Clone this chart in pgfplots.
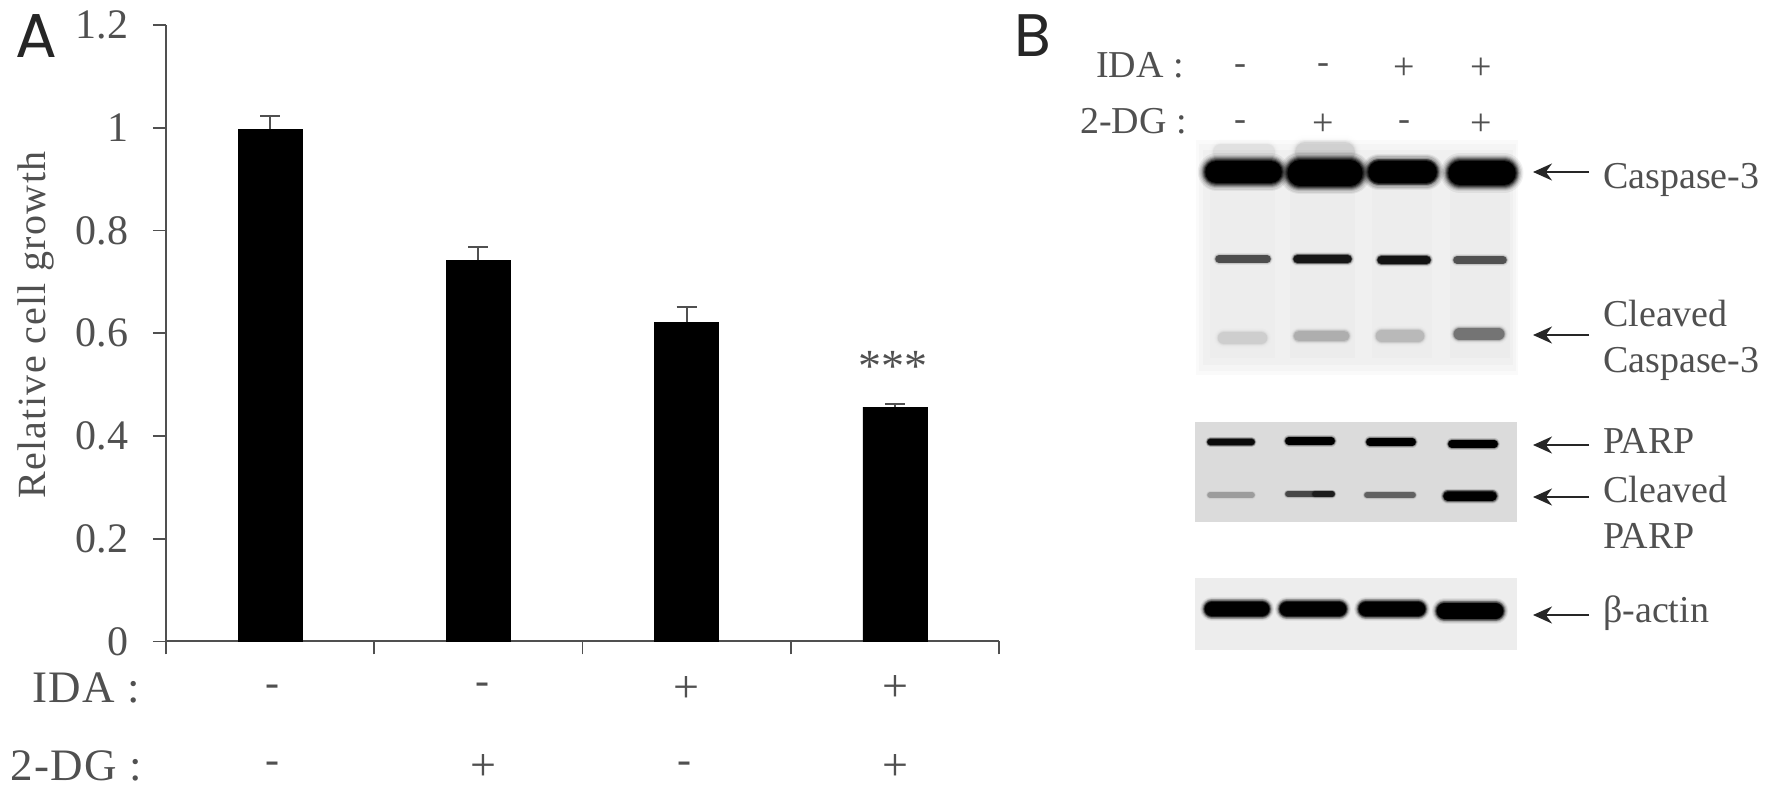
\documentclass[border=0pt]{standalone}
\usepackage{pgfplots}
\usepackage{pgfplotstable}
\usepackage{fontspec}
\pgfplotsset{compat=1.18}
\usetikzlibrary{arrows.meta}
\setmainfont{Liberation Serif}
\newfontfamily\panelfont{Poppins}
\definecolor{txt}{HTML}{505050}
\definecolor{axc}{HTML}{505050}
\pgfplotstableread{
x y err
0 0.997 0.025
1 0.742 0.026
2 0.621 0.030
3 0.456 0.006
}\growth
\newcommand{\fs}[1]{\fontsize{#1}{#1}\selectfont}
% soft band: x1 x2 y height opacity
\newcommand{\bandlayer}[7]{%
 \addplot[no markers,black,line cap=round,line width=#4*#6*1pt,opacity=#5*#7] coordinates {(#1+#4*0.5,#3)(#2-#4*0.5,#3)};
}
\newcommand{\band}[5]{%
 \bandlayer{#1}{#2}{#3}{#4}{#5}{1.5}{0.06}
 \bandlayer{#1}{#2}{#3}{#4}{#5}{1.4}{0.08}
 \bandlayer{#1}{#2}{#3}{#4}{#5}{1.3}{0.12}
 \bandlayer{#1}{#2}{#3}{#4}{#5}{1.2}{0.18}
 \bandlayer{#1}{#2}{#3}{#4}{#5}{1.12}{0.25}
 \bandlayer{#1}{#2}{#3}{#4}{#5}{1.05}{0.35}
 \bandlayer{#1}{#2}{#3}{#4}{#5}{0.98}{0.5}
 \bandlayer{#1}{#2}{#3}{#4}{#5}{0.9}{1}
}
\newcommand{\blot}[5]{%
 \addplot[draw=none,fill=#5,forget plot] coordinates {(#1,#3)(#2,#3)(#2,#4)(#1,#4)} -- cycle;
}
\newcommand{\lbl}[4]{\node[anchor=base west,inner sep=0pt,text=txt] at (axis cs:#1,#2) {\fs{#3}#4};}
\newcommand{\lbls}[4]{\node[anchor=base west,inner sep=0pt,text=txt] at (axis cs:#1,#2) {\fs{#3}\addfontfeatures{LetterSpace=3}#4};}
\newcommand{\sgn}[4]{\node[anchor=center,inner sep=0pt,text=txt] at (axis cs:#1,#2) {\fs{#3}#4};}
\newcommand{\arr}[1]{\draw[-{Stealth[length=19pt,width=17pt]},line width=2pt,black!85] (axis cs:1589,#1) -- (axis cs:1533,#1);}
\begin{document}
\begin{tikzpicture}[x=1pt,y=1pt]
% pixel-frame layer: panel B and annotations
\begin{axis}[at={(0pt,0pt)},anchor=south west,scale only axis,width=1772pt,height=789pt,
  xmin=0,xmax=1772,ymin=0,ymax=789,y dir=reverse,hide axis,clip=false]
\path (axis cs:0,0) rectangle (axis cs:1772,789);
% caspase blot
\blot{1196}{1518}{140}{375}{black!2}
\blot{1199}{1516}{144}{371}{black!4}
\blot{1203}{1513}{150}{365}{black!6}
\blot{1210}{1275}{185}{358}{black!7}
\blot{1290}{1355}{185}{358}{black!7.5}
\blot{1372}{1432}{185}{358}{black!7}
\blot{1450}{1510}{185}{358}{black!7.5}
\band{1212}{1276}{152}{18}{0.03}
\band{1294}{1356}{152}{22}{0.06}
\band{1204}{1283}{172}{25}{1}
\band{1286}{1364}{173}{28}{1}
\band{1367}{1438}{172}{24}{1}
\band{1447}{1517}{173}{26}{1}
\band{1215}{1271}{259}{8}{0.38}
\band{1293}{1352}{259}{9}{0.68}
\band{1377}{1431}{260}{9}{0.72}
\band{1453}{1507}{260}{8}{0.36}
\band{1217}{1268}{338}{14}{0.05}
\band{1293}{1350}{336}{12}{0.11}
\band{1375}{1425}{336}{14}{0.09}
\band{1453}{1505}{334}{13}{0.25}
% PARP blot
\blot{1195}{1517}{422}{522}{black!14}
\band{1207}{1255}{442}{7}{0.8}
\band{1285}{1335}{441}{8}{1}
\band{1366}{1416}{442}{8}{1}
\band{1448}{1498}{444}{8}{1}
\band{1207}{1255}{495}{6}{0.12}
\band{1285}{1335}{494}{6}{0.38}
\band{1312}{1335}{494}{6}{0.3}
\band{1364}{1416}{495}{6}{0.28}
\band{1443}{1497}{496}{10}{1}
% actin blot
\blot{1195}{1517}{578}{650}{black!7}
\band{1204}{1270}{609}{16}{1}
\band{1279}{1347}{609}{16}{1}
\band{1358}{1426}{609}{16}{1}
\band{1436}{1504}{611}{17}{1}
% arrows
\arr{172}\arr{335}\arr{445}\arr{497}\arr{615}
% panel letters
\node[anchor=base west,inner sep=0pt,text=black!85] at (axis cs:15,58) {\panelfont\fs{62}A};
\node[anchor=base west,inner sep=0pt,text=black!85] at (axis cs:1014,57) {\panelfont\fs{60}B};
% panel A rows
\lbls{32}{702}{45}{IDA :}
\lbls{10}{780}{45}{2-DG :}
\sgn{272}{691}{42}{-}\sgn{482}{689}{42}{-}\sgn{686}{689}{46}{+}\sgn{895}{688}{46}{+}
\sgn{272}{768}{42}{-}\sgn{483}{767}{46}{+}\sgn{684}{768}{42}{-}\sgn{895}{767}{46}{+}
\node[anchor=center,inner sep=0pt,text=txt] at (axis cs:893,366) {\fs{46}***};
% panel B rows
\lbl{1096}{78}{38}{IDA :}
\lbl{1080}{134}{38}{2-DG :}
\sgn{1240}{70}{36}{-}\sgn{1323}{69}{36}{-}\sgn{1404}{69}{38}{+}\sgn{1481}{69}{38}{+}
\sgn{1240}{126}{36}{-}\sgn{1323}{125}{38}{+}\sgn{1404}{126}{36}{-}\sgn{1481}{125}{38}{+}
% right labels
\lbl{1603}{188}{38}{Caspase-3}
\lbl{1603}{326}{38}{Cleaved}
\lbl{1603}{372}{38}{Caspase-3}
\lbl{1603}{453}{38}{PARP}
\lbl{1603}{502}{38}{Cleaved}
\lbl{1603}{548}{38}{PARP}
\lbl{1603}{622}{38}{β-actin}
\end{axis}
% bar chart
\begin{axis}[at={(166pt,147.5pt)},anchor=south west,scale only axis,width=833pt,height=616.5pt,
  xmin=-0.5,xmax=3.5,ymin=0,ymax=1.2,
  axis lines*=left,axis line style={-,axc,line width=2pt},
  ybar,bar width=64pt,
  xtick={-0.5,0.5,1.5,2.5,3.5},xticklabels={},
  ytick={0,0.2,0.4,0.6,0.8,1,1.2},
  yticklabels={0,0.2,0.4,0.6,0.8,1,1.2},
  tick align=outside,major tick length=13pt,
  tick style={axc,line width=1.8pt},
  yticklabel style={text=txt,font=\fs{42},xshift=-21pt},
  ylabel={\fs{40}\addfontfeatures{LetterSpace=3.4}Relative cell growth},
  every axis y label/.style={at={(axis description cs:-0.156,0.513)},rotate=90,anchor=center,text=txt},
  clip=false]
\addplot[fill=black,draw=black,
  error bars/.cd,y dir=plus,y explicit,
  error bar style={axc,line width=2pt},
  error mark options={rotate=90,mark size=10pt,line width=2pt,axc}]
  table[x=x,y=y,y error=err] {\growth};
\end{axis}
\end{tikzpicture}
\end{document}
